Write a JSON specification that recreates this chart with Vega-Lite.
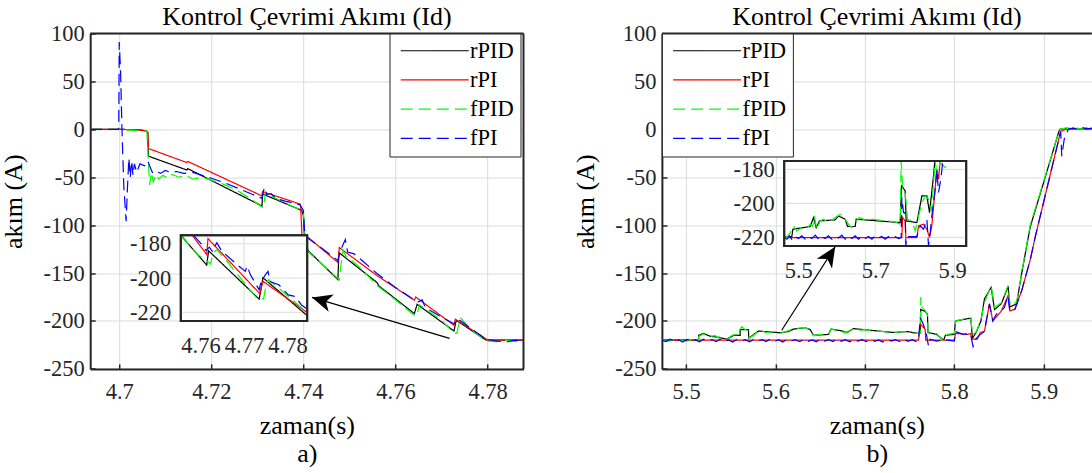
{
"$schema": "https://vega.github.io/schema/vega-lite/v6.json",
"background": "white",
"padding": {"left": 0.2, "top": 4.5, "right": 0, "bottom": 0},
"spacing": 46.7,
"datasets": {
"mainA": [
{"s":"rPID","t":4.6937,"v":0},{"s":"rPID","t":4.7,"v":0},{"s":"rPID","t":4.704,"v":-0.5},{"s":"rPID","t":4.7058,"v":-1.5},{"s":"rPID","t":4.7062,"v":-3},{"s":"rPID","t":4.70635,"v":-28},{"s":"rPID","t":4.7147,"v":-42.5},{"s":"rPID","t":4.7149,"v":-41},{"s":"rPID","t":4.731,"v":-80},{"s":"rPID","t":4.73115,"v":-67.5},{"s":"rPID","t":4.7396,"v":-84.5},{"s":"rPID","t":4.74,"v":-90},{"s":"rPID","t":4.7403,"v":-118},{"s":"rPID","t":4.7411,"v":-127},{"s":"rPID","t":4.7475,"v":-156.8},{"s":"rPID","t":4.7477,"v":-128.6},{"s":"rPID","t":4.756,"v":-159.9},{"s":"rPID","t":4.7564,"v":-163.4},{"s":"rPID","t":4.7641,"v":-192.3},{"s":"rPID","t":4.7647,"v":-182.6},{"s":"rPID","t":4.7727,"v":-210.4},{"s":"rPID","t":4.7732,"v":-199.3},{"s":"rPID","t":4.7796,"v":-219.8},{"s":"rPID","t":4.7878,"v":-220},
{"s":"rPI","t":4.6937,"v":0},{"s":"rPI","t":4.7,"v":0},{"s":"rPI","t":4.704,"v":-0.5},{"s":"rPI","t":4.7058,"v":-1.5},{"s":"rPI","t":4.7062,"v":-3},{"s":"rPI","t":4.70632,"v":-20},{"s":"rPI","t":4.7147,"v":-34.7},{"s":"rPI","t":4.7149,"v":-33.5},{"s":"rPI","t":4.731,"v":-69.5},{"s":"rPI","t":4.73112,"v":-65},{"s":"rPI","t":4.7393,"v":-78},{"s":"rPI","t":4.7394,"v":-80},{"s":"rPI","t":4.7397,"v":-112},{"s":"rPI","t":4.7411,"v":-113},{"s":"rPI","t":4.7475,"v":-139},{"s":"rPI","t":4.7478,"v":-123.4},{"s":"rPI","t":4.7561,"v":-153},{"s":"rPI","t":4.7641,"v":-178.4},{"s":"rPI","t":4.7644,"v":-175},{"s":"rPI","t":4.7727,"v":-204.5},{"s":"rPI","t":4.773,"v":-198.2},{"s":"rPI","t":4.7796,"v":-218.4},{"s":"rPI","t":4.78,"v":-220},{"s":"rPI","t":4.7878,"v":-220},
{"s":"fPID","t":4.6937,"v":0},{"s":"fPID","t":4.7,"v":0},{"s":"fPID","t":4.706,"v":-2},{"s":"fPID","t":4.70635,"v":-35},{"s":"fPID","t":4.7066,"v":-58},{"s":"fPID","t":4.707,"v":-45},{"s":"fPID","t":4.7074,"v":-55},{"s":"fPID","t":4.708,"v":-47},{"s":"fPID","t":4.7086,"v":-52},{"s":"fPID","t":4.7095,"v":-48},{"s":"fPID","t":4.7105,"v":-51},{"s":"fPID","t":4.7115,"v":-47},{"s":"fPID","t":4.713,"v":-50},{"s":"fPID","t":4.7145,"v":-48},{"s":"fPID","t":4.716,"v":-52},{"s":"fPID","t":4.718,"v":-50},{"s":"fPID","t":4.72,"v":-53},{"s":"fPID","t":4.723,"v":-58},{"s":"fPID","t":4.726,"v":-65},{"s":"fPID","t":4.729,"v":-74},{"s":"fPID","t":4.731,"v":-81},{"s":"fPID","t":4.7313,"v":-82},{"s":"fPID","t":4.7318,"v":-65},{"s":"fPID","t":4.7325,"v":-68},{"s":"fPID","t":4.734,"v":-72},{"s":"fPID","t":4.737,"v":-79},{"s":"fPID","t":4.7393,"v":-84},{"s":"fPID","t":4.74,"v":-86},{"s":"fPID","t":4.7404,"v":-116},{"s":"fPID","t":4.7411,"v":-128},{"s":"fPID","t":4.745,"v":-145},{"s":"fPID","t":4.7478,"v":-157},{"s":"fPID","t":4.7482,"v":-140},{"s":"fPID","t":4.7486,"v":-126},{"s":"fPID","t":4.7492,"v":-132},{"s":"fPID","t":4.752,"v":-143},{"s":"fPID","t":4.756,"v":-163},{"s":"fPID","t":4.76,"v":-178},{"s":"fPID","t":4.7641,"v":-194},{"s":"fPID","t":4.7646,"v":-195},{"s":"fPID","t":4.7652,"v":-183},{"s":"fPID","t":4.766,"v":-186},{"s":"fPID","t":4.77,"v":-199},{"s":"fPID","t":4.7727,"v":-213},{"s":"fPID","t":4.7733,"v":-213},{"s":"fPID","t":4.7741,"v":-196.5},{"s":"fPID","t":4.776,"v":-207},{"s":"fPID","t":4.7796,"v":-221},{"s":"fPID","t":4.782,"v":-221.5},{"s":"fPID","t":4.784,"v":-220},{"s":"fPID","t":4.786,"v":-221.5},{"s":"fPID","t":4.7878,"v":-220.5},
{"s":"fPI","t":4.6937,"v":0},{"s":"fPI","t":4.6999,"v":0},{"s":"fPI","t":4.7,"v":91},{"s":"fPI","t":4.7003,"v":60},{"s":"fPI","t":4.7006,"v":0},{"s":"fPI","t":4.701,"v":-60},{"s":"fPI","t":4.7015,"v":-96},{"s":"fPI","t":4.7018,"v":-60},{"s":"fPI","t":4.7021,"v":-30},{"s":"fPI","t":4.7024,"v":-50},{"s":"fPI","t":4.7027,"v":-33},{"s":"fPI","t":4.703,"v":-48},{"s":"fPI","t":4.7033,"v":-36},{"s":"fPI","t":4.7038,"v":-45},{"s":"fPI","t":4.7045,"v":-36},{"s":"fPI","t":4.7055,"v":-38},{"s":"fPI","t":4.7062,"v":-33},{"s":"fPI","t":4.7066,"v":-38},{"s":"fPI","t":4.7072,"v":-45},{"s":"fPI","t":4.708,"v":-43},{"s":"fPI","t":4.709,"v":-46},{"s":"fPI","t":4.71,"v":-43},{"s":"fPI","t":4.7112,"v":-45},{"s":"fPI","t":4.7125,"v":-44},{"s":"fPI","t":4.714,"v":-46},{"s":"fPI","t":4.716,"v":-45},{"s":"fPI","t":4.718,"v":-48},{"s":"fPI","t":4.72,"v":-51},{"s":"fPI","t":4.723,"v":-56},{"s":"fPI","t":4.726,"v":-62},{"s":"fPI","t":4.729,"v":-68},{"s":"fPI","t":4.731,"v":-72},{"s":"fPI","t":4.7315,"v":-61},{"s":"fPI","t":4.732,"v":-68},{"s":"fPI","t":4.733,"v":-67},{"s":"fPI","t":4.734,"v":-72},{"s":"fPI","t":4.736,"v":-75},{"s":"fPI","t":4.738,"v":-77},{"s":"fPI","t":4.7393,"v":-79},{"s":"fPI","t":4.74,"v":-85},{"s":"fPI","t":4.7403,"v":-112},{"s":"fPI","t":4.7411,"v":-114},{"s":"fPI","t":4.744,"v":-124},{"s":"fPI","t":4.7475,"v":-137},{"s":"fPI","t":4.748,"v":-127},{"s":"fPI","t":4.7491,"v":-115},{"s":"fPI","t":4.7496,"v":-128},{"s":"fPI","t":4.751,"v":-130},{"s":"fPI","t":4.753,"v":-138},{"s":"fPI","t":4.7561,"v":-151},{"s":"fPI","t":4.76,"v":-165},{"s":"fPI","t":4.7641,"v":-178},{"s":"fPI","t":4.765,"v":-180},{"s":"fPI","t":4.7658,"v":-178},{"s":"fPI","t":4.7665,"v":-186},{"s":"fPI","t":4.77,"v":-196},{"s":"fPI","t":4.7727,"v":-203},{"s":"fPI","t":4.7735,"v":-198},{"s":"fPI","t":4.7745,"v":-201},{"s":"fPI","t":4.777,"v":-210},{"s":"fPI","t":4.7796,"v":-219},{"s":"fPI","t":4.782,"v":-221},{"s":"fPI","t":4.784,"v":-222},{"s":"fPI","t":4.786,"v":-220},{"s":"fPI","t":4.7878,"v":-221}
],
"insetA": [
{"s":"rPID","t":4.76,"v":-175},{"s":"rPID","t":4.7641,"v":-192.5},{"s":"rPID","t":4.7644,"v":-184.1},{"s":"rPID","t":4.7724,"v":-212.3},{"s":"rPID","t":4.773,"v":-199.8},{"s":"rPID","t":4.7798,"v":-221.3},{"s":"rPID","t":4.78,"v":-221.5},
{"s":"rPI","t":4.7618,"v":-175},{"s":"rPI","t":4.7641,"v":-186.3},{"s":"rPI","t":4.7643,"v":-177},{"s":"rPI","t":4.7725,"v":-209.1},{"s":"rPI","t":4.773,"v":-201.9},{"s":"rPI","t":4.7798,"v":-219.6},{"s":"rPI","t":4.78,"v":-220},
{"s":"fPID","t":4.7601,"v":-175},{"s":"fPID","t":4.7602,"v":-176.1},{"s":"fPID","t":4.7628,"v":-186.7},{"s":"fPID","t":4.7639,"v":-189.2},{"s":"fPID","t":4.7647,"v":-191.8},{"s":"fPID","t":4.7651,"v":-185.3},{"s":"fPID","t":4.7657,"v":-183.4},{"s":"fPID","t":4.7673,"v":-190.2},{"s":"fPID","t":4.7686,"v":-196.1},{"s":"fPID","t":4.7718,"v":-210.8},{"s":"fPID","t":4.7723,"v":-212.2},{"s":"fPID","t":4.7731,"v":-212.2},{"s":"fPID","t":4.7735,"v":-203.9},{"s":"fPID","t":4.7739,"v":-201},{"s":"fPID","t":4.7755,"v":-205.9},{"s":"fPID","t":4.777,"v":-210.8},{"s":"fPID","t":4.7789,"v":-216.7},{"s":"fPID","t":4.7798,"v":-220},{"s":"fPID","t":4.78,"v":-220.5},
{"s":"fPI","t":4.762,"v":-175},{"s":"fPI","t":4.7633,"v":-180.4},{"s":"fPI","t":4.764,"v":-184},{"s":"fPI","t":4.7645,"v":-182},{"s":"fPI","t":4.765,"v":-184.5},{"s":"fPI","t":4.7657,"v":-179.4},{"s":"fPI","t":4.7665,"v":-184.4},{"s":"fPI","t":4.7686,"v":-191.2},{"s":"fPI","t":4.7702,"v":-196.1},{"s":"fPI","t":4.7705,"v":-193},{"s":"fPI","t":4.771,"v":-198},{"s":"fPI","t":4.7724,"v":-206.9},{"s":"fPI","t":4.7727,"v":-202},{"s":"fPI","t":4.7734,"v":-198},{"s":"fPI","t":4.7738,"v":-196.1},{"s":"fPI","t":4.7741,"v":-202},{"s":"fPI","t":4.7755,"v":-203.9},{"s":"fPI","t":4.777,"v":-209.8},{"s":"fPI","t":4.7781,"v":-210.8},{"s":"fPI","t":4.7791,"v":-215.7},{"s":"fPI","t":4.7798,"v":-217.6},{"s":"fPI","t":4.78,"v":-218}
],
"arrowA": [{"t1":4.77174,"v1":-218.1,"t2":4.74187,"v2":-175.4}],
"headA": [{"t":4.74396,"v":-178.5}],
"mainB": [
{"s":"rPID","t":5.4729,"v":-220},{"s":"rPID","t":5.5139,"v":-220},{"s":"rPID","t":5.514,"v":-215},{"s":"rPID","t":5.5195,"v":-213},{"s":"rPID","t":5.527,"v":-216},{"s":"rPID","t":5.5362,"v":-217},{"s":"rPID","t":5.5456,"v":-219},{"s":"rPID","t":5.553,"v":-215},{"s":"rPID","t":5.5604,"v":-215},{"s":"rPID","t":5.5605,"v":-209},{"s":"rPID","t":5.5698,"v":-209},{"s":"rPID","t":5.57,"v":-218},{"s":"rPID","t":5.5773,"v":-213},{"s":"rPID","t":5.581,"v":-210.5},{"s":"rPID","t":5.6053,"v":-212.3},{"s":"rPID","t":5.6145,"v":-211},{"s":"rPID","t":5.62,"v":-208.5},{"s":"rPID","t":5.6332,"v":-207},{"s":"rPID","t":5.6388,"v":-209},{"s":"rPID","t":5.6425,"v":-215},{"s":"rPID","t":5.6593,"v":-214},{"s":"rPID","t":5.662,"v":-208.5},{"s":"rPID","t":5.6724,"v":-210},{"s":"rPID","t":5.6799,"v":-212},{"s":"rPID","t":5.6873,"v":-208},{"s":"rPID","t":5.7096,"v":-210},{"s":"rPID","t":5.732,"v":-212},{"s":"rPID","t":5.747,"v":-211},{"s":"rPID","t":5.76,"v":-213},{"s":"rPID","t":5.762,"v":-212},{"s":"rPID","t":5.7624,"v":-188},{"s":"rPID","t":5.7674,"v":-190},{"s":"rPID","t":5.77,"v":-193},{"s":"rPID","t":5.7705,"v":-212},{"s":"rPID","t":5.78,"v":-214},{"s":"rPID","t":5.7881,"v":-220},{"s":"rPID","t":5.79,"v":-215},{"s":"rPID","t":5.8,"v":-214},{"s":"rPID","t":5.8013,"v":-200},{"s":"rPID","t":5.8184,"v":-197},{"s":"rPID","t":5.8203,"v":-218},{"s":"rPID","t":5.8241,"v":-212.5},{"s":"rPID","t":5.8298,"v":-200},{"s":"rPID","t":5.8337,"v":-177},{"s":"rPID","t":5.8412,"v":-165},{"s":"rPID","t":5.845,"v":-188},{"s":"rPID","t":5.8526,"v":-182},{"s":"rPID","t":5.8602,"v":-164},{"s":"rPID","t":5.8621,"v":-185.5},{"s":"rPID","t":5.8697,"v":-182},{"s":"rPID","t":5.8754,"v":-150},{"s":"rPID","t":5.8849,"v":-102},{"s":"rPID","t":5.9171,"v":-2},{"s":"rPID","t":5.918,"v":0},{"s":"rPID","t":5.925,"v":1},{"s":"rPID","t":5.94,"v":0.5},{"s":"rPID","t":5.9539,"v":1},
{"s":"rPI","t":5.4729,"v":-220},{"s":"rPI","t":5.76,"v":-220},{"s":"rPI","t":5.7619,"v":-203},{"s":"rPI","t":5.7674,"v":-208.6},{"s":"rPI","t":5.768,"v":-220},{"s":"rPI","t":5.8,"v":-220},{"s":"rPI","t":5.8013,"v":-213},{"s":"rPI","t":5.815,"v":-214},{"s":"rPI","t":5.818,"v":-213},{"s":"rPI","t":5.82,"v":-219},{"s":"rPI","t":5.8258,"v":-219},{"s":"rPI","t":5.829,"v":-212},{"s":"rPI","t":5.8337,"v":-210.8},{"s":"rPI","t":5.8393,"v":-182},{"s":"rPI","t":5.8431,"v":-200},{"s":"rPI","t":5.8526,"v":-189.5},{"s":"rPI","t":5.8602,"v":-173.5},{"s":"rPI","t":5.8621,"v":-189.5},{"s":"rPI","t":5.8678,"v":-187.7},{"s":"rPI","t":5.8754,"v":-168.3},{"s":"rPI","t":5.8849,"v":-136.3},{"s":"rPI","t":5.8906,"v":-112},{"s":"rPI","t":5.919,"v":-2},{"s":"rPI","t":5.925,"v":0},{"s":"rPI","t":5.94,"v":0.5},{"s":"rPI","t":5.9539,"v":0},
{"s":"fPID","t":5.4729,"v":-220},{"s":"fPID","t":5.48,"v":-221},{"s":"fPID","t":5.49,"v":-219.5},{"s":"fPID","t":5.5,"v":-221},{"s":"fPID","t":5.508,"v":-219.5},{"s":"fPID","t":5.5139,"v":-220},{"s":"fPID","t":5.5142,"v":-216},{"s":"fPID","t":5.5195,"v":-213.5},{"s":"fPID","t":5.523,"v":-215},{"s":"fPID","t":5.527,"v":-216.5},{"s":"fPID","t":5.532,"v":-215},{"s":"fPID","t":5.5362,"v":-217.5},{"s":"fPID","t":5.542,"v":-218},{"s":"fPID","t":5.5456,"v":-219.5},{"s":"fPID","t":5.55,"v":-216},{"s":"fPID","t":5.553,"v":-214.5},{"s":"fPID","t":5.56,"v":-214},{"s":"fPID","t":5.5606,"v":-208},{"s":"fPID","t":5.5624,"v":-206},{"s":"fPID","t":5.566,"v":-209},{"s":"fPID","t":5.5698,"v":-210},{"s":"fPID","t":5.5702,"v":-218},{"s":"fPID","t":5.574,"v":-216},{"s":"fPID","t":5.5773,"v":-213.5},{"s":"fPID","t":5.581,"v":-210},{"s":"fPID","t":5.59,"v":-212},{"s":"fPID","t":5.6,"v":-211},{"s":"fPID","t":5.6053,"v":-213},{"s":"fPID","t":5.61,"v":-211.5},{"s":"fPID","t":5.6145,"v":-210},{"s":"fPID","t":5.62,"v":-208.5},{"s":"fPID","t":5.626,"v":-207.5},{"s":"fPID","t":5.6332,"v":-207},{"s":"fPID","t":5.6388,"v":-209.5},{"s":"fPID","t":5.6426,"v":-215.5},{"s":"fPID","t":5.65,"v":-214},{"s":"fPID","t":5.6593,"v":-214.5},{"s":"fPID","t":5.6622,"v":-208},{"s":"fPID","t":5.668,"v":-210},{"s":"fPID","t":5.6724,"v":-211},{"s":"fPID","t":5.6799,"v":-212.5},{"s":"fPID","t":5.6874,"v":-208},{"s":"fPID","t":5.695,"v":-209.5},{"s":"fPID","t":5.7,"v":-209},{"s":"fPID","t":5.7096,"v":-210.5},{"s":"fPID","t":5.72,"v":-211},{"s":"fPID","t":5.732,"v":-212.5},{"s":"fPID","t":5.74,"v":-211},{"s":"fPID","t":5.747,"v":-211.5},{"s":"fPID","t":5.755,"v":-213},{"s":"fPID","t":5.762,"v":-213},{"s":"fPID","t":5.7625,"v":-175},{"s":"fPID","t":5.764,"v":-186},{"s":"fPID","t":5.7674,"v":-189},{"s":"fPID","t":5.77,"v":-194},{"s":"fPID","t":5.7706,"v":-212},{"s":"fPID","t":5.775,"v":-215},{"s":"fPID","t":5.78,"v":-213},{"s":"fPID","t":5.785,"v":-218},{"s":"fPID","t":5.7881,"v":-221},{"s":"fPID","t":5.792,"v":-214},{"s":"fPID","t":5.8,"v":-213},{"s":"fPID","t":5.8015,"v":-200},{"s":"fPID","t":5.81,"v":-198},{"s":"fPID","t":5.8184,"v":-197},{"s":"fPID","t":5.8205,"v":-214},{"s":"fPID","t":5.8241,"v":-212},{"s":"fPID","t":5.8298,"v":-199},{"s":"fPID","t":5.834,"v":-180},{"s":"fPID","t":5.8412,"v":-163.4},{"s":"fPID","t":5.845,"v":-186},{"s":"fPID","t":5.8526,"v":-181},{"s":"fPID","t":5.8602,"v":-163},{"s":"fPID","t":5.8625,"v":-184},{"s":"fPID","t":5.8697,"v":-180},{"s":"fPID","t":5.8754,"v":-149.5},{"s":"fPID","t":5.8849,"v":-100},{"s":"fPID","t":5.9171,"v":-2},{"s":"fPID","t":5.9177,"v":0},{"s":"fPID","t":5.925,"v":1.5},{"s":"fPID","t":5.93,"v":0},{"s":"fPID","t":5.935,"v":1.5},{"s":"fPID","t":5.942,"v":0.5},{"s":"fPID","t":5.948,"v":1.8},{"s":"fPID","t":5.9539,"v":0.5},
{"s":"fPI","t":5.4729,"v":-220},{"s":"fPI","t":5.4775,"v":-221.5},{"s":"fPI","t":5.482,"v":-219},{"s":"fPI","t":5.4868,"v":-221},{"s":"fPI","t":5.4915,"v":-219.5},{"s":"fPI","t":5.496,"v":-222},{"s":"fPI","t":5.501,"v":-219.2},{"s":"fPI","t":5.5055,"v":-221.3},{"s":"fPI","t":5.51,"v":-219.6},{"s":"fPI","t":5.515,"v":-221.8},{"s":"fPI","t":5.5195,"v":-219},{"s":"fPI","t":5.524,"v":-220.8},{"s":"fPI","t":5.529,"v":-219.4},{"s":"fPI","t":5.5335,"v":-221.6},{"s":"fPI","t":5.538,"v":-219.1},{"s":"fPI","t":5.543,"v":-221.2},{"s":"fPI","t":5.5475,"v":-219.7},{"s":"fPI","t":5.552,"v":-222},{"s":"fPI","t":5.557,"v":-219.3},{"s":"fPI","t":5.5615,"v":-221},{"s":"fPI","t":5.566,"v":-219.5},{"s":"fPI","t":5.571,"v":-221.7},{"s":"fPI","t":5.5755,"v":-219.2},{"s":"fPI","t":5.58,"v":-220.9},{"s":"fPI","t":5.585,"v":-219.4},{"s":"fPI","t":5.5895,"v":-221.5},{"s":"fPI","t":5.594,"v":-219},{"s":"fPI","t":5.599,"v":-221.1},{"s":"fPI","t":5.6035,"v":-219.6},{"s":"fPI","t":5.608,"v":-221.9},{"s":"fPI","t":5.613,"v":-219.3},{"s":"fPI","t":5.6175,"v":-220.8},{"s":"fPI","t":5.622,"v":-219.5},{"s":"fPI","t":5.627,"v":-221.6},{"s":"fPI","t":5.6315,"v":-219.1},{"s":"fPI","t":5.636,"v":-221.3},{"s":"fPI","t":5.641,"v":-219.7},{"s":"fPI","t":5.6455,"v":-221.8},{"s":"fPI","t":5.65,"v":-219.2},{"s":"fPI","t":5.655,"v":-221},{"s":"fPI","t":5.6595,"v":-219.4},{"s":"fPI","t":5.664,"v":-221.5},{"s":"fPI","t":5.669,"v":-219},{"s":"fPI","t":5.6735,"v":-221.2},{"s":"fPI","t":5.678,"v":-219.6},{"s":"fPI","t":5.683,"v":-221.7},{"s":"fPI","t":5.6875,"v":-219.3},{"s":"fPI","t":5.692,"v":-220.9},{"s":"fPI","t":5.697,"v":-219.5},{"s":"fPI","t":5.7015,"v":-221.6},{"s":"fPI","t":5.706,"v":-219.1},{"s":"fPI","t":5.711,"v":-221.2},{"s":"fPI","t":5.7155,"v":-219.7},{"s":"fPI","t":5.72,"v":-221.9},{"s":"fPI","t":5.725,"v":-219.2},{"s":"fPI","t":5.7295,"v":-221},{"s":"fPI","t":5.734,"v":-219.4},{"s":"fPI","t":5.739,"v":-221.5},{"s":"fPI","t":5.7435,"v":-219},{"s":"fPI","t":5.748,"v":-221.3},{"s":"fPI","t":5.753,"v":-219.6},{"s":"fPI","t":5.7575,"v":-221.4},{"s":"fPI","t":5.76,"v":-220},{"s":"fPI","t":5.7619,"v":-196.5},{"s":"fPI","t":5.765,"v":-203},{"s":"fPI","t":5.7674,"v":-208.6},{"s":"fPI","t":5.769,"v":-215},{"s":"fPI","t":5.7711,"v":-226},{"s":"fPI","t":5.773,"v":-219},{"s":"fPI","t":5.78,"v":-221},{"s":"fPI","t":5.79,"v":-219.5},{"s":"fPI","t":5.8,"v":-221},{"s":"fPI","t":5.8013,"v":-211},{"s":"fPI","t":5.81,"v":-214},{"s":"fPI","t":5.818,"v":-213},{"s":"fPI","t":5.821,"v":-226.6},{"s":"fPI","t":5.824,"v":-219},{"s":"fPI","t":5.829,"v":-214},{"s":"fPI","t":5.8337,"v":-210.8},{"s":"fPI","t":5.8393,"v":-182.4},{"s":"fPI","t":5.8431,"v":-200},{"s":"fPI","t":5.847,"v":-193},{"s":"fPI","t":5.8526,"v":-189.5},{"s":"fPI","t":5.856,"v":-186},{"s":"fPI","t":5.8602,"v":-173.5},{"s":"fPI","t":5.8621,"v":-190},{"s":"fPI","t":5.8678,"v":-187.7},{"s":"fPI","t":5.8754,"v":-168.3},{"s":"fPI","t":5.8849,"v":-136.3},{"s":"fPI","t":5.8906,"v":-112},{"s":"fPI","t":5.919,"v":-2.3},{"s":"fPI","t":5.9202,"v":-28},{"s":"fPI","t":5.923,"v":-10},{"s":"fPI","t":5.9276,"v":0},{"s":"fPI","t":5.933,"v":1.5},{"s":"fPI","t":5.938,"v":0},{"s":"fPI","t":5.943,"v":1.8},{"s":"fPI","t":5.948,"v":0.5},{"s":"fPI","t":5.9539,"v":1}
],
"insetB": [
{"s":"rPID","t":5.5,"v":-219.5},{"s":"rPID","t":5.5168,"v":-219.5},{"s":"rPID","t":5.519,"v":-215.2},{"s":"rPID","t":5.5571,"v":-213.6},{"s":"rPID","t":5.5645,"v":-208.3},{"s":"rPID","t":5.5703,"v":-214.2},{"s":"rPID","t":5.5777,"v":-210.3},{"s":"rPID","t":5.6121,"v":-209.7},{"s":"rPID","t":5.6194,"v":-207.4},{"s":"rPID","t":5.6341,"v":-209.3},{"s":"rPID","t":5.6392,"v":-213.6},{"s":"rPID","t":5.656,"v":-213.6},{"s":"rPID","t":5.6582,"v":-209.3},{"s":"rPID","t":5.7549,"v":-211.3},{"s":"rPID","t":5.7579,"v":-189.7},{"s":"rPID","t":5.7659,"v":-192.6},{"s":"rPID","t":5.7681,"v":-210.3},{"s":"rPID","t":5.7916,"v":-211.3},{"s":"rPID","t":5.8026,"v":-195.6},{"s":"rPID","t":5.8136,"v":-195.6},{"s":"rPID","t":5.8194,"v":-205.4},{"s":"rPID","t":5.8282,"v":-183.8},{"s":"rPID","t":5.8311,"v":-175},
{"s":"rPI","t":5.5,"v":-220.1},{"s":"rPI","t":5.7586,"v":-220.1},{"s":"rPI","t":5.7601,"v":-208.3},{"s":"rPI","t":5.7659,"v":-210.3},{"s":"rPI","t":5.7674,"v":-220.1},{"s":"rPI","t":5.7916,"v":-220.1},{"s":"rPI","t":5.7952,"v":-213.2},{"s":"rPI","t":5.8062,"v":-212.3},{"s":"rPI","t":5.8136,"v":-215.2},{"s":"rPI","t":5.8194,"v":-220.1},{"s":"rPI","t":5.8245,"v":-213.2},{"s":"rPI","t":5.8297,"v":-197.5},{"s":"rPI","t":5.8355,"v":-179.9},{"s":"rPI","t":5.8392,"v":-185.8},{"s":"rPI","t":5.8428,"v":-175},
{"s":"fPID","t":5.5,"v":-218.1},{"s":"fPID","t":5.5059,"v":-220.1},{"s":"fPID","t":5.5132,"v":-217.2},{"s":"fPID","t":5.5205,"v":-213.2},{"s":"fPID","t":5.5278,"v":-216.2},{"s":"fPID","t":5.5388,"v":-214.2},{"s":"fPID","t":5.5498,"v":-214.8},{"s":"fPID","t":5.5571,"v":-212.3},{"s":"fPID","t":5.563,"v":-213.6},{"s":"fPID","t":5.5659,"v":-207.4},{"s":"fPID","t":5.5718,"v":-215.2},{"s":"fPID","t":5.5791,"v":-210.3},{"s":"fPID","t":5.5864,"v":-209.3},{"s":"fPID","t":5.5974,"v":-211.3},{"s":"fPID","t":5.6121,"v":-208.3},{"s":"fPID","t":5.6231,"v":-206.4},{"s":"fPID","t":5.6341,"v":-209.3},{"s":"fPID","t":5.6414,"v":-212.3},{"s":"fPID","t":5.6487,"v":-214.2},{"s":"fPID","t":5.6582,"v":-210.3},{"s":"fPID","t":5.6656,"v":-208.3},{"s":"fPID","t":5.6817,"v":-210.3},{"s":"fPID","t":5.6927,"v":-209.3},{"s":"fPID","t":5.711,"v":-209.9},{"s":"fPID","t":5.7256,"v":-210.3},{"s":"fPID","t":5.744,"v":-210.9},{"s":"fPID","t":5.7549,"v":-212.3},{"s":"fPID","t":5.7571,"v":-175},{"s":"fPID","t":5.7601,"v":-189.7},{"s":"fPID","t":5.7659,"v":-193.6},{"s":"fPID","t":5.7711,"v":-209.3},{"s":"fPID","t":5.7806,"v":-210.3},{"s":"fPID","t":5.7879,"v":-216.2},{"s":"fPID","t":5.793,"v":-210.3},{"s":"fPID","t":5.8026,"v":-199.5},{"s":"fPID","t":5.8099,"v":-195.6},{"s":"fPID","t":5.8172,"v":-197.5},{"s":"fPID","t":5.8245,"v":-204.4},{"s":"fPID","t":5.8282,"v":-187.7},{"s":"fPID","t":5.8319,"v":-175.5},{"s":"fPID","t":5.8355,"v":-181.9},{"s":"fPID","t":5.8428,"v":-176},{"s":"fPID","t":5.8538,"v":-178.9},{"s":"fPID","t":5.8612,"v":-175},
{"s":"fPI","t":5.5,"v":-220.1},{"s":"fPI","t":5.5059,"v":-221.1},{"s":"fPI","t":5.5117,"v":-219.1},{"s":"fPI","t":5.5176,"v":-221.5},{"s":"fPI","t":5.5242,"v":-219.5},{"s":"fPI","t":5.5315,"v":-220.7},{"s":"fPI","t":5.5388,"v":-219.1},{"s":"fPI","t":5.5462,"v":-221.1},{"s":"fPI","t":5.5535,"v":-219.5},{"s":"fPI","t":5.5608,"v":-220.7},{"s":"fPI","t":5.5681,"v":-218.7},{"s":"fPI","t":5.5755,"v":-221.1},{"s":"fPI","t":5.5828,"v":-219.5},{"s":"fPI","t":5.5901,"v":-220.7},{"s":"fPI","t":5.5974,"v":-219.1},{"s":"fPI","t":5.6048,"v":-221.1},{"s":"fPI","t":5.6121,"v":-219.5},{"s":"fPI","t":5.6194,"v":-220.3},{"s":"fPI","t":5.6267,"v":-218.7},{"s":"fPI","t":5.6341,"v":-221.1},{"s":"fPI","t":5.6414,"v":-219.5},{"s":"fPI","t":5.6487,"v":-220.7},{"s":"fPI","t":5.656,"v":-219.1},{"s":"fPI","t":5.6634,"v":-221.1},{"s":"fPI","t":5.6707,"v":-219.5},{"s":"fPI","t":5.678,"v":-220.7},{"s":"fPI","t":5.6853,"v":-219.5},{"s":"fPI","t":5.6927,"v":-221.1},{"s":"fPI","t":5.7,"v":-219.1},{"s":"fPI","t":5.7073,"v":-220.3},{"s":"fPI","t":5.7147,"v":-219.5},{"s":"fPI","t":5.722,"v":-221.1},{"s":"fPI","t":5.7293,"v":-219.5},{"s":"fPI","t":5.7366,"v":-220.3},{"s":"fPI","t":5.744,"v":-219.5},{"s":"fPI","t":5.7513,"v":-220.7},{"s":"fPI","t":5.7571,"v":-220.1},{"s":"fPI","t":5.7586,"v":-196.6},{"s":"fPI","t":5.7623,"v":-205.4},{"s":"fPI","t":5.7659,"v":-205.4},{"s":"fPI","t":5.7674,"v":-225},{"s":"fPI","t":5.7696,"v":-219.5},{"s":"fPI","t":5.7916,"v":-219.5},{"s":"fPI","t":5.7989,"v":-213.2},{"s":"fPI","t":5.8062,"v":-215.2},{"s":"fPI","t":5.8136,"v":-209.3},{"s":"fPI","t":5.8172,"v":-225},{"s":"fPI","t":5.8209,"v":-217.2},{"s":"fPI","t":5.8245,"v":-207.4},{"s":"fPI","t":5.8319,"v":-191.7},{"s":"fPI","t":5.8355,"v":-179.9},{"s":"fPI","t":5.8392,"v":-193.6},{"s":"fPI","t":5.8443,"v":-185.8},{"s":"fPI","t":5.8487,"v":-175}
],
"arrowB": [{"t1":5.60694,"v1":-209.7,"t2":5.66678,"v2":-122.5}],
"headB": [{"t":5.66074,"v":-131.3}]
},
"hconcat": [
{
"width": 433.3, "height": 335.4,
"title": {"text": "Kontrol Çevrimi Akımı (Id)", "frame": "group", "anchor": "middle", "baseline": "bottom", "offset": -34},
"resolve": {"scale": {"x": "independent", "y": "independent"}},
"layer": [
{
"layer": [
{"data": {"name": "mainA"}, "mark": {"type": "line", "strokeWidth": 1.2, "clip": true},
"encoding": {
"x": {"field": "t", "type": "quantitative", "scale": {"domain": [4.6937, 4.7878], "zero": false, "nice": false}, "axis": {"values": [4.7, 4.72, 4.74, 4.76, 4.78], "format": "~g", "title": ["zaman(s)", "a)"], "grid": true, "tickSize": -5, "labelPadding": 16.5, "titlePadding": 9.5, "titleLineHeight": 28}},
"y": {"field": "v", "type": "quantitative", "scale": {"domain": [-250, 100], "zero": false, "nice": false}, "axis": {"values": [-250, -200, -150, -100, -50, 0, 50, 100], "title": "akım (A)", "grid": true, "tickSize": -5, "labelPadding": 11, "titlePadding": 16}},
"color": {"field": "s", "type": "nominal", "scale": {"domain": ["rPID", "rPI", "fPID", "fPI"], "range": ["#000000", "#ff0000", "#00ff00", "#0000ff"]}, "legend": {"legendX": 299.3, "legendY": 0}},
"strokeDash": {"field": "s", "type": "nominal", "scale": {"domain": ["rPID", "rPI", "fPID", "fPI"], "range": [[1, 0], [1, 0], [12, 6], [12, 6]]}, "legend": {"legendX": 299.3, "legendY": 0}}
}},
{"data": {"values": [{}]}, "mark": {"type": "rule", "color": "#262626", "strokeWidth": 2}, "encoding": {"y": {"datum": 100, "type": "quantitative"}}},
{"data": {"values": [{}]}, "mark": {"type": "rule", "color": "#262626", "strokeWidth": 2}, "encoding": {"x": {"datum": 4.7878, "type": "quantitative"}}}
]
},
{
"layer": [
{"data": {"values": [{}]}, "mark": {"type": "rect", "fill": "white", "stroke": "#262626", "strokeWidth": 2},
"encoding": {
"x": {"datum": 4.76, "type": "quantitative", "scale": {"domain": [4.76, 4.78], "range": [90.6, 217], "zero": false, "nice": false}, "axis": {"orient": "bottom", "offset": -48, "values": [4.76, 4.77, 4.78], "format": "~g", "title": null, "grid": false, "domain": false, "ticks": false, "labelPadding": 14, "zindex": 1}},
"x2": {"datum": 4.78},
"y": {"datum": -225, "type": "quantitative", "scale": {"domain": [-225, -175], "range": [287.4, 201.7], "zero": false, "nice": false}, "axis": {"orient": "left", "offset": -90.6, "values": [-220, -200, -180], "title": null, "grid": false, "domain": false, "ticks": false, "labelPadding": 10, "zindex": 1}},
"y2": {"datum": -175}
}},
{"data": {"values": [{}]}, "mark": {"type": "rule", "color": "#dcdcdc", "strokeWidth": 1}, "encoding": {"x": {"datum": 4.77, "type": "quantitative"}, "y": {"datum": -225, "type": "quantitative"}, "y2": {"datum": -175}}},
{"data": {"values": [{}]}, "mark": {"type": "rule", "color": "#dcdcdc", "strokeWidth": 1}, "encoding": {"y": {"datum": -200, "type": "quantitative"}, "x": {"datum": 4.76, "type": "quantitative"}, "x2": {"datum": 4.78}}},
{"data": {"values": [{}]}, "mark": {"type": "rule", "color": "#dcdcdc", "strokeWidth": 1}, "encoding": {"y": {"datum": -180, "type": "quantitative"}, "x": {"datum": 4.76, "type": "quantitative"}, "x2": {"datum": 4.78}}},
{"data": {"values": [{}]}, "mark": {"type": "rule", "color": "#dcdcdc", "strokeWidth": 1}, "encoding": {"y": {"datum": -220, "type": "quantitative"}, "x": {"datum": 4.76, "type": "quantitative"}, "x2": {"datum": 4.78}}},
{"data": {"name": "insetA"}, "mark": {"type": "line", "strokeWidth": 1.2},
"encoding": {"x": {"field": "t", "type": "quantitative"}, "y": {"field": "v", "type": "quantitative"}, "color": {"field": "s", "type": "nominal", "legend": null}, "strokeDash": {"field": "s", "type": "nominal", "legend": null}}},
{"data": {"values": [{}]}, "mark": {"type": "rect", "fillOpacity": 0, "stroke": "#262626", "strokeWidth": 2},
"encoding": {"x": {"datum": 4.76, "type": "quantitative"}, "x2": {"datum": 4.78}, "y": {"datum": -225, "type": "quantitative"}, "y2": {"datum": -175}}}
]
},
{
"layer": [
{"data": {"name": "arrowA"}, "mark": {"type": "rule", "color": "#000000", "strokeWidth": 1.2},
"encoding": {"x": {"field": "t1", "type": "quantitative", "scale": {"domain": [4.6937, 4.7878], "zero": false, "nice": false}, "axis": null}, "y": {"field": "v1", "type": "quantitative", "scale": {"domain": [-250, 100], "zero": false, "nice": false}, "axis": null}, "x2": {"field": "t2"}, "y2": {"field": "v2"}}},
{"data": {"name": "headA"}, "mark": {"type": "point", "shape": "M0,-1L0.9,1L0,0.45L-0.9,1Z", "filled": true, "color": "#000000", "opacity": 1, "size": 400, "angle": 286.5, "strokeWidth": 0},
"encoding": {"x": {"field": "t", "type": "quantitative", "axis": null}, "y": {"field": "v", "type": "quantitative", "axis": null}}}
]
}
]
},
{
"width": 430, "height": 335.4,
"title": {"text": "Kontrol Çevrimi Akımı (Id)", "frame": "group", "anchor": "middle", "baseline": "bottom", "offset": -34},
"resolve": {"scale": {"x": "independent", "y": "independent"}},
"layer": [
{
"layer": [
{"data": {"name": "mainB"}, "mark": {"type": "line", "strokeWidth": 1.2, "clip": true},
"encoding": {
"x": {"field": "t", "type": "quantitative", "scale": {"domain": [5.4729, 5.9539], "zero": false, "nice": false}, "axis": {"values": [5.5, 5.6, 5.7, 5.8, 5.9], "format": "~g", "title": ["zaman(s)", "b)"], "grid": true, "tickSize": -5, "labelPadding": 16.5, "titlePadding": 9.5, "titleLineHeight": 28}},
"y": {"field": "v", "type": "quantitative", "scale": {"domain": [-250, 100], "zero": false, "nice": false}, "axis": {"values": [-250, -200, -150, -100, -50, 0, 50, 100], "title": "akım (A)", "grid": true, "tickSize": -5, "labelPadding": 11, "titlePadding": 16}},
"color": {"field": "s", "type": "nominal", "scale": {"domain": ["rPID", "rPI", "fPID", "fPI"], "range": ["#000000", "#ff0000", "#00ff00", "#0000ff"]}, "legend": {"legendX": 0, "legendY": 0}},
"strokeDash": {"field": "s", "type": "nominal", "scale": {"domain": ["rPID", "rPI", "fPID", "fPI"], "range": [[1, 0], [1, 0], [12, 6], [12, 6]]}, "legend": {"legendX": 0, "legendY": 0}}
}},
{"data": {"values": [{}]}, "mark": {"type": "rule", "color": "#262626", "strokeWidth": 2}, "encoding": {"y": {"datum": 100, "type": "quantitative"}}}
]
},
{
"layer": [
{"data": {"values": [{}]}, "mark": {"type": "rect", "fill": "white", "stroke": "#262626", "strokeWidth": 2},
"encoding": {
"x": {"datum": 5.5, "type": "quantitative", "scale": {"domain": [5.5, 5.9], "range": [122.3, 304.3], "zero": false, "nice": false}, "axis": {"orient": "bottom", "offset": -123, "values": [5.5, 5.7, 5.9], "format": "~g", "title": null, "grid": false, "domain": false, "ticks": false, "labelPadding": 14, "zindex": 1}},
"x2": {"datum": 5.9},
"y": {"datum": -225, "type": "quantitative", "scale": {"domain": [-225, -175], "range": [212.4, 127.4], "zero": false, "nice": false}, "axis": {"orient": "left", "offset": -122.3, "values": [-220, -200, -180], "title": null, "grid": false, "domain": false, "ticks": false, "labelPadding": 10, "zindex": 1}},
"y2": {"datum": -175}
}},
{"data": {"values": [{}]}, "mark": {"type": "rule", "color": "#dcdcdc", "strokeWidth": 1}, "encoding": {"x": {"datum": 5.7, "type": "quantitative"}, "y": {"datum": -225, "type": "quantitative"}, "y2": {"datum": -175}}},
{"data": {"values": [{}]}, "mark": {"type": "rule", "color": "#dcdcdc", "strokeWidth": 1}, "encoding": {"y": {"datum": -200, "type": "quantitative"}, "x": {"datum": 5.5, "type": "quantitative"}, "x2": {"datum": 5.9}}},
{"data": {"values": [{}]}, "mark": {"type": "rule", "color": "#dcdcdc", "strokeWidth": 1}, "encoding": {"y": {"datum": -180, "type": "quantitative"}, "x": {"datum": 5.5, "type": "quantitative"}, "x2": {"datum": 5.9}}},
{"data": {"values": [{}]}, "mark": {"type": "rule", "color": "#dcdcdc", "strokeWidth": 1}, "encoding": {"y": {"datum": -220, "type": "quantitative"}, "x": {"datum": 5.5, "type": "quantitative"}, "x2": {"datum": 5.9}}},
{"data": {"name": "insetB"}, "mark": {"type": "line", "strokeWidth": 1.2},
"encoding": {"x": {"field": "t", "type": "quantitative"}, "y": {"field": "v", "type": "quantitative"}, "color": {"field": "s", "type": "nominal", "legend": null}, "strokeDash": {"field": "s", "type": "nominal", "legend": null}}},
{"data": {"values": [{}]}, "mark": {"type": "rect", "fillOpacity": 0, "stroke": "#262626", "strokeWidth": 2},
"encoding": {"x": {"datum": 5.5, "type": "quantitative"}, "x2": {"datum": 5.9}, "y": {"datum": -225, "type": "quantitative"}, "y2": {"datum": -175}}}
]
},
{
"layer": [
{"data": {"name": "arrowB"}, "mark": {"type": "rule", "color": "#000000", "strokeWidth": 1.2},
"encoding": {"x": {"field": "t1", "type": "quantitative", "scale": {"domain": [5.4729, 5.9539], "zero": false, "nice": false}, "axis": null}, "y": {"field": "v1", "type": "quantitative", "scale": {"domain": [-250, 100], "zero": false, "nice": false}, "axis": null}, "x2": {"field": "t2"}, "y2": {"field": "v2"}}},
{"data": {"name": "headB"}, "mark": {"type": "point", "shape": "M0,-1L0.9,1L0,0.45L-0.9,1Z", "filled": true, "color": "#000000", "opacity": 1, "size": 400, "angle": 32.6, "strokeWidth": 0},
"encoding": {"x": {"field": "t", "type": "quantitative", "axis": null}, "y": {"field": "v", "type": "quantitative", "axis": null}}}
]
}
]
}
],
"resolve": {"scale": {"color": "independent", "strokeDash": "independent"}, "legend": {"color": "independent", "strokeDash": "independent"}},
"config": {
"font": "Liberation Serif",
"view": {"stroke": null},
"locale": {"number": {"decimal": ".", "thousands": ",", "grouping": [3], "currency": ["$", ""], "minus": "-"}},
"axis": {"labelFont": "Liberation Serif", "labelFontSize": 22.5, "labelColor": "#262626", "titleFont": "Liberation Serif", "titleFontSize": 26, "titleFontWeight": "normal", "titleColor": "#000000", "gridColor": "#dcdcdc", "gridWidth": 1, "domainColor": "#262626", "domainWidth": 2, "tickColor": "#262626", "tickWidth": 1.5},
"title": {"font": "Liberation Serif", "fontSize": 26, "fontWeight": "normal", "color": "#000000"},
"legend": {"orient": "none", "title": null, "symbolType": "M-1,0L10.33,0", "symbolSize": 144, "symbolStrokeWidth": 1.2, "labelFont": "Liberation Serif", "labelFontSize": 22.5, "labelColor": "#000000", "fillColor": "white", "strokeColor": "#262626", "padding": 6, "rowPadding": 6.2, "labelOffset": 52}
}
}
